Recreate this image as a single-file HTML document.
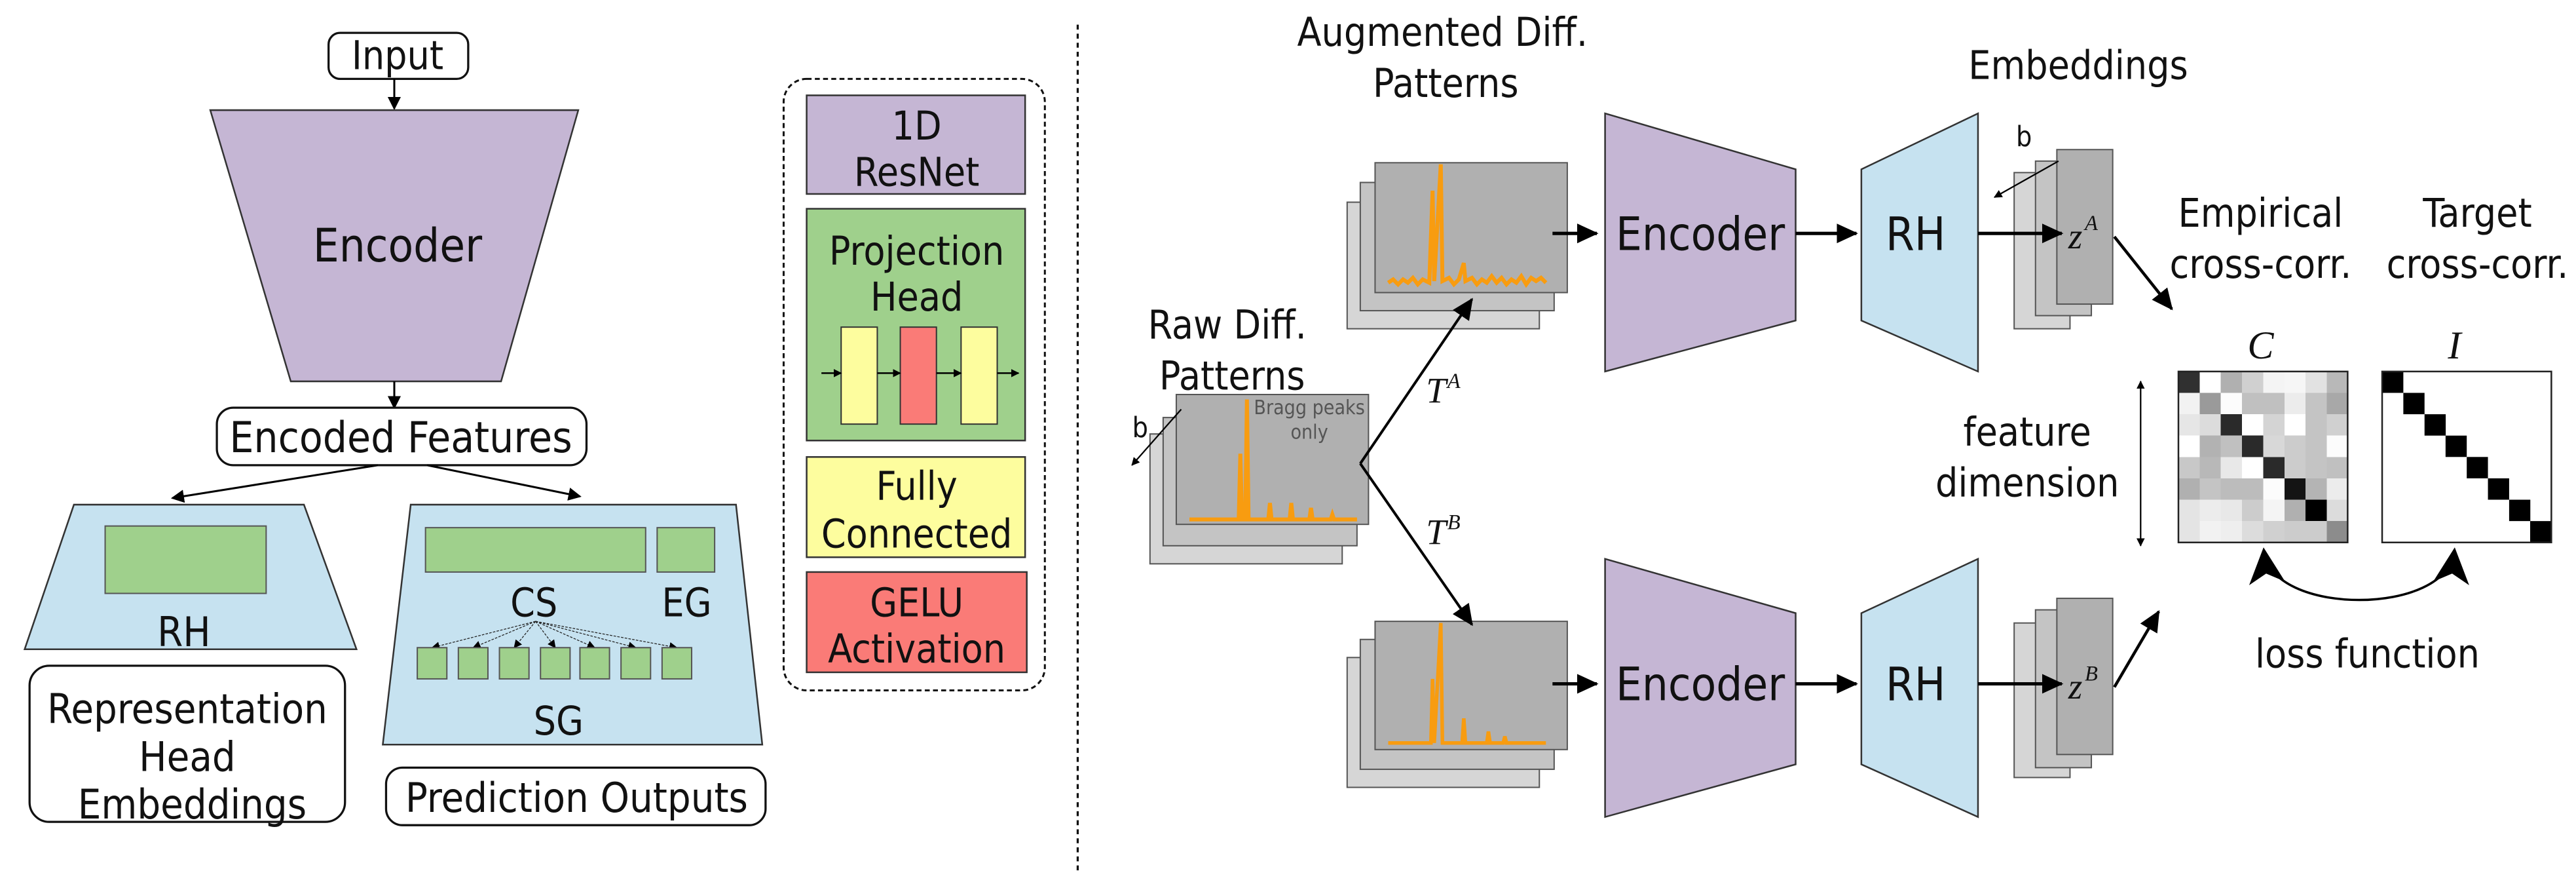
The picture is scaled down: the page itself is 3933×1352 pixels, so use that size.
<!DOCTYPE html>
<html><head><meta charset="utf-8"><style>
html,body{margin:0;padding:0;background:#fff;}
svg{display:block;}
text{font-family:"DejaVu Sans Condensed","DejaVu Sans","Liberation Sans",sans-serif;font-stretch:condensed;fill:#111;}
.s{font-family:"Liberation Serif","DejaVu Serif",serif;font-style:italic;font-stretch:normal;}
</style></head><body>
<svg width="3933" height="1352" viewBox="0 0 1568 539" preserveAspectRatio="none" xmlns="http://www.w3.org/2000/svg">
<defs>
<marker id="a" markerWidth="8" markerHeight="8" refX="7" refY="4" orient="auto" markerUnits="userSpaceOnUse"><path d="M0,0 L8,4 L0,8 Z" fill="#000"/></marker>
<marker id="b" markerWidth="14" markerHeight="14" refX="12" refY="7" orient="auto" markerUnits="userSpaceOnUse"><path d="M0,1 L13,7 L0,13 Z" fill="#000"/></marker>
<marker id="sm" markerWidth="5" markerHeight="5" refX="4.5" refY="2.5" orient="auto-start-reverse" markerUnits="userSpaceOnUse"><path d="M0,0 L5,2.5 L0,5 Z" fill="#000"/></marker>
<marker id="big" markerWidth="22" markerHeight="22" refX="20" refY="11" orient="auto-start-reverse" markerUnits="userSpaceOnUse"><path d="M0,0 L22,11 L0,22 L6,11 Z" fill="#000"/></marker>
</defs>

<!-- LEFT -->
<rect x="200" y="20" width="85" height="28" rx="7" fill="#fff" stroke="#111" stroke-width="1.3"/>
<text x="242" y="42" font-size="24" text-anchor="middle">Input</text>
<line x1="240" y1="48" x2="240" y2="66" stroke="#000" stroke-width="1.2" marker-end="url(#a)"/>
<polygon points="128,67 352,67 305,232 177,232" fill="#c5b6d4" stroke="#333" stroke-width="1"/>
<text x="242" y="159" font-size="28" text-anchor="middle">Encoder</text>
<line x1="240" y1="232" x2="240" y2="248" stroke="#000" stroke-width="1.2" marker-end="url(#a)"/>
<rect x="132" y="248" width="225" height="35" rx="10" fill="#fff" stroke="#111" stroke-width="1.3"/>
<text x="244" y="275" font-size="26" text-anchor="middle">Encoded Features</text>
<line x1="230" y1="283" x2="105" y2="303" stroke="#000" stroke-width="1.2" marker-end="url(#a)"/>
<line x1="260" y1="283" x2="353" y2="302" stroke="#000" stroke-width="1.2" marker-end="url(#a)"/>

<polygon points="45,307 185,307 217,395 15,395" fill="#c6e2f0" stroke="#333" stroke-width="1"/>
<rect x="64" y="320" width="98" height="41" fill="#9fd08c" stroke="#555" stroke-width="0.8"/>
<text x="112" y="393" font-size="25" text-anchor="middle">RH</text>
<rect x="18" y="405" width="192" height="95" rx="12" fill="#fff" stroke="#111" stroke-width="1.3"/>
<text x="114" y="440" font-size="25" text-anchor="middle">Representation</text>
<text x="114" y="469" font-size="25" text-anchor="middle">Head</text>
<text x="117" y="498" font-size="25" text-anchor="middle">Embeddings</text>

<polygon points="250,307 448,307 464,453 233,453" fill="#c6e2f0" stroke="#333" stroke-width="1"/>
<rect x="259" y="321" width="134" height="27" fill="#9fd08c" stroke="#555" stroke-width="0.8"/>
<rect x="400" y="321" width="35" height="27" fill="#9fd08c" stroke="#555" stroke-width="0.8"/>
<text x="325" y="375" font-size="24" text-anchor="middle">CS</text>
<text x="418" y="375" font-size="24" text-anchor="middle">EG</text>
<g stroke="#222" stroke-width="0.5" stroke-dasharray="1.5,0.8">
<line x1="326" y1="378" x2="263" y2="394" marker-end="url(#sm)"/>
<line x1="326" y1="378" x2="288" y2="394" marker-end="url(#sm)"/>
<line x1="326" y1="378" x2="313" y2="394" marker-end="url(#sm)"/>
<line x1="326" y1="378" x2="338" y2="394" marker-end="url(#sm)"/>
<line x1="326" y1="378" x2="362" y2="394" marker-end="url(#sm)"/>
<line x1="326" y1="378" x2="387" y2="394" marker-end="url(#sm)"/>
<line x1="326" y1="378" x2="412" y2="394" marker-end="url(#sm)"/>
</g>
<g fill="#9fd08c" stroke="#555" stroke-width="0.8">
<rect x="254" y="394" width="18" height="19"/><rect x="279" y="394" width="18" height="19"/>
<rect x="304" y="394" width="18" height="19"/><rect x="329" y="394" width="18" height="19"/>
<rect x="353" y="394" width="18" height="19"/><rect x="378" y="394" width="18" height="19"/>
<rect x="403" y="394" width="18" height="19"/>
</g>
<text x="340" y="447" font-size="24" text-anchor="middle">SG</text>
<rect x="235" y="467" width="231" height="35" rx="10" fill="#fff" stroke="#111" stroke-width="1.3"/>
<text x="351" y="494" font-size="25" text-anchor="middle">Prediction Outputs</text>

<!-- legend -->
<rect x="477" y="48" width="159" height="372" rx="14" fill="none" stroke="#111" stroke-width="1.2" stroke-dasharray="3,2"/>
<rect x="491" y="58" width="133" height="60" fill="#c5b6d4" stroke="#333" stroke-width="1"/>
<text x="558" y="85" font-size="24" text-anchor="middle">1D</text>
<text x="558" y="113" font-size="24" text-anchor="middle">ResNet</text>
<rect x="491" y="127" width="133" height="141" fill="#9fd08c" stroke="#333" stroke-width="1"/>
<text x="558" y="161" font-size="24" text-anchor="middle">Projection</text>
<text x="558" y="189" font-size="24" text-anchor="middle">Head</text>
<rect x="512" y="199" width="22" height="59" fill="#fdfd9e" stroke="#333" stroke-width="0.8"/>
<rect x="548" y="199" width="22" height="59" fill="#fa7b77" stroke="#333" stroke-width="0.8"/>
<rect x="585" y="199" width="22" height="59" fill="#fdfd9e" stroke="#333" stroke-width="0.8"/>
<g stroke="#000" stroke-width="1">
<line x1="500" y1="227" x2="512" y2="227" marker-end="url(#sm)"/>
<line x1="534" y1="227" x2="548" y2="227" marker-end="url(#sm)"/>
<line x1="570" y1="227" x2="585" y2="227" marker-end="url(#sm)"/>
<line x1="607" y1="227" x2="620" y2="227" marker-end="url(#sm)"/>
</g>
<rect x="491" y="278" width="133" height="61" fill="#fdfd9e" stroke="#333" stroke-width="1"/>
<text x="558" y="304" font-size="24" text-anchor="middle">Fully</text>
<text x="558" y="333" font-size="24" text-anchor="middle">Connected</text>
<rect x="491" y="348" width="134" height="61" fill="#fa7b77" stroke="#333" stroke-width="1"/>
<text x="558" y="375" font-size="24" text-anchor="middle">GELU</text>
<text x="558" y="403" font-size="24" text-anchor="middle">Activation</text>

<line x1="656" y1="15" x2="656" y2="530" stroke="#111" stroke-width="1.3" stroke-dasharray="3,2.5"/>

<!-- RIGHT -->
<text x="878" y="28" font-size="24" text-anchor="middle">Augmented Diff.</text>
<text x="880" y="59" font-size="24" text-anchor="middle">Patterns</text>
<text x="1265" y="48" font-size="24" text-anchor="middle">Embeddings</text>

<!-- top stack -->
<rect x="820" y="123" width="117" height="77" fill="#d6d6d6" stroke="#555" stroke-width="0.8"/>
<rect x="828" y="111" width="118" height="78" fill="#c4c4c4" stroke="#555" stroke-width="0.8"/>
<rect x="837" y="99" width="117" height="79" fill="#b0b0b0" stroke="#555" stroke-width="0.8"/>
<polyline points="845,172 848,170 851,173 854,170 857,172 860,169 863,173 866,170 870,172 872,116 873,171 877,100 878,171 882,169 885,173 888,170 891,160 892,171 896,169 899,173 902,170 905,172 908,168 911,172 914,169 917,173 920,170 923,172 926,168 929,173 932,169 935,171 938,169 941,172" fill="none" stroke="#f89c10" stroke-width="2.4"/>
<!-- bottom stack -->
<rect x="820" y="400" width="117" height="79" fill="#d6d6d6" stroke="#555" stroke-width="0.8"/>
<rect x="828" y="389" width="118" height="79" fill="#c4c4c4" stroke="#555" stroke-width="0.8"/>
<rect x="837" y="378" width="117" height="78" fill="#b0b0b0" stroke="#555" stroke-width="0.8"/>
<polyline points="845,452 871,452 872,413 873,452 877,379 878,452 890,452 891,437 892,452 905,452 906,445 907,452 915,452 916,448 917,452 941,452" fill="none" stroke="#f89c10" stroke-width="2.2"/>
<!-- raw stack -->
<text x="747" y="206" font-size="24" text-anchor="middle">Raw Diff.</text>
<text x="750" y="237" font-size="24" text-anchor="middle">Patterns</text>
<rect x="700" y="264" width="117" height="79" fill="#d6d6d6" stroke="#555" stroke-width="0.8"/>
<rect x="708" y="254" width="118" height="78" fill="#c4c4c4" stroke="#555" stroke-width="0.8"/>
<rect x="716" y="240" width="117" height="79" fill="#b0b0b0" stroke="#555" stroke-width="0.8"/>
<polyline points="724,316 754,316 755,276 756,316 758,316 759,243 760,316 772,316 773,306 774,316 785,316 786,306 787,316 797,316 798,309 799,316 810,316 811,313 812,316 826,316" fill="none" stroke="#f89c10" stroke-width="2.4"/>
<text x="797" y="252" font-size="12" text-anchor="middle" style="fill:#555">Bragg peaks</text>
<text x="797" y="267" font-size="12" text-anchor="middle" style="fill:#555">only</text>
<text x="694" y="266" font-size="17" text-anchor="middle">b</text>
<line x1="719" y1="249" x2="689" y2="283" stroke="#000" stroke-width="0.9" marker-end="url(#sm)"/>

<!-- branching -->
<line x1="828" y1="282" x2="896" y2="182" stroke="#000" stroke-width="1.6" marker-end="url(#b)"/>
<line x1="828" y1="282" x2="896" y2="380" stroke="#000" stroke-width="1.6" marker-end="url(#b)"/>
<text x="868" y="245" font-size="22" class="s">T</text><text x="881" y="236" font-size="13" class="s">A</text>
<text x="868" y="331" font-size="22" class="s">T</text><text x="881" y="322" font-size="13" class="s">B</text>

<!-- top path -->
<line x1="945" y1="142" x2="972" y2="142" stroke="#000" stroke-width="2" marker-end="url(#b)"/>
<polygon points="977,69 1093,103 1093,195 977,226" fill="#c5b6d4" stroke="#333" stroke-width="1"/>
<text x="1035" y="152" font-size="28" text-anchor="middle">Encoder</text>
<line x1="1093" y1="142" x2="1130" y2="142" stroke="#000" stroke-width="2" marker-end="url(#b)"/>
<polygon points="1133,103 1204,69 1204,226 1133,195" fill="#c6e2f0" stroke="#333" stroke-width="1"/>
<text x="1166" y="152" font-size="28" text-anchor="middle">RH</text>
<rect x="1226" y="105" width="34" height="95" fill="#d6d6d6" stroke="#555" stroke-width="0.8"/>
<rect x="1239" y="98" width="34" height="94" fill="#c4c4c4" stroke="#555" stroke-width="0.8"/>
<rect x="1252" y="91" width="34" height="94" fill="#b0b0b0" stroke="#555" stroke-width="0.8"/>
<line x1="1204" y1="142" x2="1255" y2="142" stroke="#000" stroke-width="2" marker-end="url(#b)"/>
<text x="1259" y="151" font-size="22" class="s">z</text><text x="1269" y="140" font-size="13" class="s">A</text>
<text x="1232" y="89" font-size="17" text-anchor="middle">b</text>
<line x1="1253" y1="98" x2="1214" y2="120" stroke="#000" stroke-width="0.9" marker-end="url(#sm)"/>
<line x1="1287" y1="144" x2="1322" y2="188" stroke="#000" stroke-width="1.8" marker-end="url(#b)"/>

<!-- bottom path -->
<line x1="945" y1="416" x2="972" y2="416" stroke="#000" stroke-width="2" marker-end="url(#b)"/>
<polygon points="977,340 1093,373 1093,465 977,497" fill="#c5b6d4" stroke="#333" stroke-width="1"/>
<text x="1035" y="426" font-size="28" text-anchor="middle">Encoder</text>
<line x1="1093" y1="416" x2="1130" y2="416" stroke="#000" stroke-width="2" marker-end="url(#b)"/>
<polygon points="1133,373 1204,340 1204,497 1133,465" fill="#c6e2f0" stroke="#333" stroke-width="1"/>
<text x="1166" y="426" font-size="28" text-anchor="middle">RH</text>
<rect x="1226" y="379" width="34" height="94" fill="#d6d6d6" stroke="#555" stroke-width="0.8"/>
<rect x="1239" y="371" width="34" height="96" fill="#c4c4c4" stroke="#555" stroke-width="0.8"/>
<rect x="1252" y="364" width="34" height="95" fill="#b0b0b0" stroke="#555" stroke-width="0.8"/>
<line x1="1204" y1="416" x2="1255" y2="416" stroke="#000" stroke-width="2" marker-end="url(#b)"/>
<text x="1259" y="425" font-size="22" class="s">z</text><text x="1269" y="414" font-size="13" class="s">B</text>
<line x1="1287" y1="418" x2="1314" y2="372" stroke="#000" stroke-width="1.8" marker-end="url(#b)"/>

<text x="1376" y="138" font-size="24" text-anchor="middle">Empirical</text>
<text x="1376" y="169" font-size="24" text-anchor="middle">cross-corr.</text>
<text x="1508" y="138" font-size="24" text-anchor="middle">Target</text>
<text x="1508" y="169" font-size="24" text-anchor="middle">cross-corr.</text>
<text x="1376" y="218" font-size="24" class="s" text-anchor="middle">C</text>
<text x="1494" y="218" font-size="24" class="s" text-anchor="middle">I</text>
<text x="1234" y="271" font-size="24" text-anchor="middle">feature</text>
<text x="1234" y="302" font-size="24" text-anchor="middle">dimension</text>
<line x1="1303" y1="232" x2="1303" y2="332" stroke="#000" stroke-width="0.9" marker-start="url(#sm)" marker-end="url(#sm)"/>

<!-- C matrix -->
<g transform="translate(1326,226) scale(12.9,13)" shape-rendering="crispEdges">
<rect x="0" y="0" width="1" height="1" fill="#303030"/><rect x="1" y="0" width="1" height="1" fill="#fff"/><rect x="2" y="0" width="1" height="1" fill="#b0b0b0"/><rect x="3" y="0" width="1" height="1" fill="#d0d0d0"/><rect x="4" y="0" width="1" height="1" fill="#f4f4f4"/><rect x="5" y="0" width="1" height="1" fill="#f6f6f6"/><rect x="6" y="0" width="1" height="1" fill="#e2e2e2"/><rect x="7" y="0" width="1" height="1" fill="#b8b8b8"/>
<rect x="0" y="1" width="1" height="1" fill="#f2f2f2"/><rect x="1" y="1" width="1" height="1" fill="#9a9a9a"/><rect x="2" y="1" width="1" height="1" fill="#fcfcfc"/><rect x="3" y="1" width="1" height="1" fill="#c0c0c0"/><rect x="4" y="1" width="1" height="1" fill="#c0c0c0"/><rect x="5" y="1" width="1" height="1" fill="#ececec"/><rect x="6" y="1" width="1" height="1" fill="#c4c4c4"/><rect x="7" y="1" width="1" height="1" fill="#a8a8a8"/>
<rect x="0" y="2" width="1" height="1" fill="#e6e6e6"/><rect x="1" y="2" width="1" height="1" fill="#dcdcdc"/><rect x="2" y="2" width="1" height="1" fill="#2a2a2a"/><rect x="3" y="2" width="1" height="1" fill="#fff"/><rect x="4" y="2" width="1" height="1" fill="#d4d4d4"/><rect x="5" y="2" width="1" height="1" fill="#fff"/><rect x="6" y="2" width="1" height="1" fill="#c4c4c4"/><rect x="7" y="2" width="1" height="1" fill="#d0d0d0"/>
<rect x="0" y="3" width="1" height="1" fill="#fff"/><rect x="1" y="3" width="1" height="1" fill="#b2b2b2"/><rect x="2" y="3" width="1" height="1" fill="#c0c0c0"/><rect x="3" y="3" width="1" height="1" fill="#2a2a2a"/><rect x="4" y="3" width="1" height="1" fill="#d8d8d8"/><rect x="5" y="3" width="1" height="1" fill="#cccccc"/><rect x="6" y="3" width="1" height="1" fill="#c4c4c4"/><rect x="7" y="3" width="1" height="1" fill="#fcfcfc"/>
<rect x="0" y="4" width="1" height="1" fill="#c8c8c8"/><rect x="1" y="4" width="1" height="1" fill="#b8b8b8"/><rect x="2" y="4" width="1" height="1" fill="#e8e8e8"/><rect x="3" y="4" width="1" height="1" fill="#fff"/><rect x="4" y="4" width="1" height="1" fill="#2a2a2a"/><rect x="5" y="4" width="1" height="1" fill="#cccccc"/><rect x="6" y="4" width="1" height="1" fill="#c4c4c4"/><rect x="7" y="4" width="1" height="1" fill="#c0c0c0"/>
<rect x="0" y="5" width="1" height="1" fill="#b0b0b0"/><rect x="1" y="5" width="1" height="1" fill="#c4c4c4"/><rect x="2" y="5" width="1" height="1" fill="#bcbcbc"/><rect x="3" y="5" width="1" height="1" fill="#bcbcbc"/><rect x="4" y="5" width="1" height="1" fill="#fcfcfc"/><rect x="5" y="5" width="1" height="1" fill="#141414"/><rect x="6" y="5" width="1" height="1" fill="#b4b4b4"/><rect x="7" y="5" width="1" height="1" fill="#ececec"/>
<rect x="0" y="6" width="1" height="1" fill="#e4e4e4"/><rect x="1" y="6" width="1" height="1" fill="#ececec"/><rect x="2" y="6" width="1" height="1" fill="#e8e8e8"/><rect x="3" y="6" width="1" height="1" fill="#cccccc"/><rect x="4" y="6" width="1" height="1" fill="#f4f4f4"/><rect x="5" y="6" width="1" height="1" fill="#b0b0b0"/><rect x="6" y="6" width="1" height="1" fill="#000"/><rect x="7" y="6" width="1" height="1" fill="#dcdcdc"/>
<rect x="0" y="7" width="1" height="1" fill="#e4e4e4"/><rect x="1" y="7" width="1" height="1" fill="#f2f2f2"/><rect x="2" y="7" width="1" height="1" fill="#eeeeee"/><rect x="3" y="7" width="1" height="1" fill="#dcdcdc"/><rect x="4" y="7" width="1" height="1" fill="#d0d0d0"/><rect x="5" y="7" width="1" height="1" fill="#cccccc"/><rect x="6" y="7" width="1" height="1" fill="#cccccc"/><rect x="7" y="7" width="1" height="1" fill="#8c8c8c"/>
</g>
<rect x="1326" y="226" width="103" height="104" fill="none" stroke="#222" stroke-width="1"/>
<!-- I matrix -->
<rect x="1450" y="226" width="103" height="104" fill="#fff"/>
<g fill="#000">
<rect x="1450" y="226" width="12.9" height="13"/><rect x="1462.9" y="239" width="12.9" height="13"/>
<rect x="1475.8" y="252" width="12.9" height="13"/><rect x="1488.6" y="265" width="12.9" height="13"/>
<rect x="1501.5" y="278" width="12.9" height="13"/><rect x="1514.4" y="291" width="12.9" height="13"/>
<rect x="1527.3" y="304" width="12.9" height="13"/><rect x="1540.1" y="317" width="12.9" height="13"/>
</g>
<rect x="1450" y="226" width="103" height="104" fill="none" stroke="#222" stroke-width="1"/>

<!-- loss curve -->
<path d="M1378,335 C1382,375 1490,375 1494,335" fill="none" stroke="#000" stroke-width="1.4" marker-start="url(#big)" marker-end="url(#big)"/>
<text x="1441" y="406" font-size="24" text-anchor="middle">loss function</text>
</svg>
</body></html>
